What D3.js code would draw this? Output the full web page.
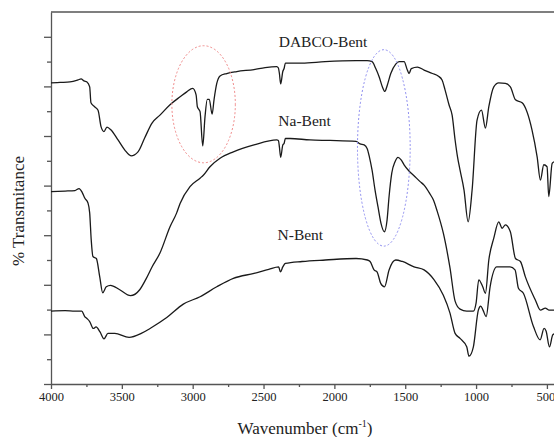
<!DOCTYPE html>
<html>
<head>
<meta charset="utf-8">
<script src="https://cdn.jsdelivr.net/npm/d3@7"></script>
<style>
  body { margin: 0; background: #fff; }
</style>
</head>
<body>
<div id="chart"></div>
<script>
// 光譜資料 [wavenumber, %T]
const dabco = [
  [4000, 60.7], [3936, 60.8], [3866, 60.9], [3809, 61.3], [3788, 61.5], [3767, 61.1], [3746, 60.9],
  [3727, 59.9], [3718, 56.7], [3692, 55.9], [3668, 55.2], [3647, 51.9], [3626, 50.9], [3605, 51.8],
  [3576, 51.2], [3527, 49.2], [3480, 47.2], [3435, 46.0], [3386, 46.8], [3339, 49.6], [3287, 52.6],
  [3231, 54.2], [3160, 56.3], [3089, 57.9], [3042, 58.9], [3000, 59.6], [2976, 58.3], [2967, 55.9],
  [2948, 54.9], [2929, 48.0], [2913, 53.9], [2897, 57.4], [2883, 57.4], [2863, 54.4], [2849, 57.4],
  [2830, 60.6], [2807, 62.1], [2760, 62.6], [2689, 63.0], [2567, 63.4], [2489, 63.8], [2407, 64.0],
  [2395, 63.7], [2388, 62.6], [2379, 60.5], [2364, 63.0], [2355, 63.6], [2346, 64.7], [2228, 64.7],
  [2066, 65.0], [1847, 65.2], [1769, 65.2], [1734, 65.0], [1708, 63.6], [1685, 62.0], [1661, 59.9],
  [1644, 59.0], [1626, 60.3], [1602, 62.6], [1567, 64.5], [1543, 65.0], [1508, 65.0], [1485, 63.3],
  [1473, 62.6], [1457, 63.6], [1414, 63.9], [1367, 63.3], [1308, 62.6], [1268, 62.1], [1240, 61.3],
  [1219, 59.3], [1191, 56.3], [1169, 54.2], [1148, 49.2], [1131, 45.8], [1113, 43.1], [1085, 39.1],
  [1056, 32.7], [1028, 39.1], [993, 53.2], [962, 55.2], [934, 51.6], [910, 55.9], [875, 59.9],
  [840, 60.7], [793, 60.6], [758, 59.9], [722, 57.3], [675, 56.7], [605, 51.2], [569, 45.8],
  [546, 41.1], [522, 44.2], [499, 43.8], [487, 37.8], [463, 44.5], [449, 44.8]
];

const naBent = [
  [4000, 38.8], [3901, 38.9], [3831, 39.0], [3802, 39.4], [3781, 38.7], [3762, 37.5], [3739, 36.5],
  [3727, 34.5], [3716, 29.0], [3704, 25.7], [3680, 25.3], [3656, 21.6], [3635, 18.4], [3610, 19.6],
  [3580, 19.9], [3515, 19.0], [3439, 17.8], [3374, 19.0], [3327, 21.3], [3287, 23.6], [3231, 26.4],
  [3160, 31.7], [3113, 34.5], [3089, 36.4], [3019, 39.8], [2948, 41.5], [2925, 42.1], [2878, 43.8],
  [2807, 45.5], [2713, 46.8], [2567, 48.2], [2407, 49.2], [2395, 49.1], [2388, 47.8], [2379, 45.7],
  [2364, 48.2], [2355, 48.5], [2346, 49.5], [2313, 49.5], [2172, 49.2], [2031, 49.1], [1847, 48.9],
  [1819, 48.4], [1790, 48.2], [1769, 47.5], [1753, 45.8], [1734, 43.1], [1713, 39.1], [1692, 35.7],
  [1671, 32.4], [1647, 30.7], [1628, 33.1], [1614, 37.8], [1595, 42.5], [1572, 44.8], [1551, 45.7],
  [1529, 45.2], [1508, 44.2], [1475, 43.0], [1438, 42.0], [1395, 40.8], [1367, 40.1], [1325, 38.3],
  [1301, 37.1], [1275, 34.9], [1231, 30.4], [1184, 23.4], [1148, 16.7], [1113, 15.1], [1066, 14.7],
  [1019, 14.7], [1000, 16.3], [981, 21.0], [953, 19.6], [934, 18.3], [910, 25.0], [875, 29.4],
  [840, 32.7], [816, 31.4], [793, 32.1], [758, 30.7], [722, 25.3], [687, 24.7], [652, 21.6],
  [581, 16.9], [546, 14.9], [511, 15.3], [487, 14.9], [449, 14.9]
];

const nBent = [
  [4000, 14.7], [3901, 14.8], [3831, 14.7], [3783, 14.7], [3762, 13.6], [3746, 13.2], [3727, 12.6],
  [3701, 11.2], [3682, 11.5], [3654, 10.5], [3626, 9.1], [3598, 10.2], [3550, 10.2], [3449, 9.4],
  [3363, 10.2], [3301, 11.2], [3183, 13.4], [3066, 16.1], [2948, 17.6], [2830, 19.6], [2713, 21.3],
  [2567, 22.3], [2463, 23.1], [2393, 23.6], [2381, 22.6], [2364, 23.6], [2346, 24.3], [2228, 24.7],
  [2064, 25.0], [1847, 25.3], [1767, 25.0], [1748, 24.7], [1720, 23.0], [1699, 22.6], [1673, 20.3],
  [1646, 19.6], [1614, 23.0], [1567, 25.0], [1520, 24.7], [1438, 23.6], [1367, 23.0], [1296, 21.0],
  [1231, 17.9], [1184, 14.3], [1148, 10.2], [1113, 9.2], [1066, 7.5], [1050, 5.6], [1019, 7.5],
  [984, 14.9], [967, 15.7], [951, 14.9], [929, 13.6], [901, 19.6], [854, 23.6], [807, 23.6],
  [760, 23.6], [725, 23.0], [701, 19.3], [666, 18.3], [595, 11.6], [548, 8.9], [520, 11.2],
  [506, 10.7], [482, 7.5], [459, 9.9], [449, 10.1]
];

const seriesNames = ["DABCO-Bent", "Na-Bent", "N-Bent"];
const xMajorTicks = [4000, 3500, 3000, 2500, 2000, 1500, 1000, 500];
const xMinorTicks = [3750, 3250, 2750, 2250, 1750, 1250, 750];
const yMajorTicks = [0, 10, 20, 30, 40, 50, 60, 70];
const yMinorTicks = [5, 15, 25, 35, 45, 55, 65];

// 註解橢圓 [中心 wavenumber, 中心 %T, 半寬 cm-1, 半高 %T]
const redRing = [2923, 56.4, 224, 11.8];
const blueRing = [1651, 47.6, 186, 19.8];

const W = 554, H = 437;
const margin = { top: 12, right: 0, bottom: 53, left: 51 };
const width = W - margin.left - margin.right;
const height = H - margin.top - margin.bottom;
const serif = "'Liberation Serif', 'Times New Roman', serif";

const svg = d3.select("#chart").append("svg")
  .attr("width", W).attr("height", H);

const g = svg.append("g")
  .attr("transform", `translate(${margin.left},${margin.top})`);

const x = d3.scaleLinear().domain([4000, 450]).range([0, width]);
const y = d3.scaleLinear().domain([0, 75]).range([height, 0]);

const axisColor = "#555";

// X 軸
const xAxis = g.append("g")
  .attr("transform", `translate(0,${height})`)
  .call(d3.axisBottom(x).tickValues(xMajorTicks).tickFormat(d3.format("d"))
    .tickSize(5).tickSizeOuter(0).tickPadding(3));
xAxis.attr("font-family", serif);
xAxis.selectAll("text")
  .style("font-family", serif)
  .style("font-size", "12.5px")
  .attr("fill", "#222")
  .attr("dx", d => d === 500 ? -1.5 : 0);   // 最右邊的標籤貼邊
g.append("g")
  .attr("transform", `translate(0,${height})`)
  .call(d3.axisBottom(x).tickValues(xMinorTicks).tickSize(3).tickFormat(""))
  .select(".domain").remove();

// Y 軸
g.append("g")
  .call(d3.axisLeft(y).tickValues(yMajorTicks).tickSize(7).tickSizeOuter(0).tickFormat(""));
g.append("g")
  .call(d3.axisLeft(y).tickValues(yMinorTicks).tickSize(4).tickFormat(""))
  .select(".domain").remove();

g.selectAll(".domain, .tick line")
  .attr("stroke", axisColor).attr("stroke-width", 1.3);

// 上框線
g.append("line")
  .attr("x1", 0).attr("x2", width)
  .attr("y1", 0).attr("y2", 0)
  .attr("stroke", axisColor).attr("stroke-width", 1.3);

// 光譜線
const line = d3.line()
  .x(d => x(d[0]))
  .y(d => y(d[1]))
  .curve(d3.curveMonotoneX);

[dabco, naBent, nBent].forEach(s => {
  g.append("path")
    .datum(s)
    .attr("fill", "none")
    .attr("stroke", "#1a1a1a")
    .attr("stroke-width", 1.3)
    .attr("stroke-linejoin", "round")
    .attr("d", line);
});

// 虛線橢圓
function ring(r, color) {
  g.append("ellipse")
    .attr("cx", x(r[0]))
    .attr("cy", y(r[1]))
    .attr("rx", Math.abs(x(r[0] + r[2]) - x(r[0])))
    .attr("ry", Math.abs(y(r[1] + r[3]) - y(r[1])))
    .attr("fill", "none")
    .attr("stroke", color)
    .attr("stroke-width", 1)
    .attr("stroke-dasharray", "2,2");
}
ring(redRing, "#f08a8a");
ring(blueRing, "#8f8ff0");

// 曲線名稱
const labelPos = [[2080, 68], [2210, 52], [2240, 29]];
seriesNames.forEach((name, i) => {
  g.append("text")
    .attr("x", x(labelPos[i][0]))
    .attr("y", y(labelPos[i][1]))
    .attr("text-anchor", "middle")
    .style("font-family", serif)
    .style("font-size", "15.5px")
    .attr("fill", "#222")
    .text(name);
});

// 軸標題
const xt = svg.append("text")
  .attr("x", 305).attr("y", 434)
  .attr("text-anchor", "middle")
  .style("font-family", serif)
  .style("font-size", "17px")
  .attr("fill", "#222");
xt.append("tspan").text("Wavenumber (cm");
xt.append("tspan").attr("dy", -7).style("font-size", "10px").text("-1");
xt.append("tspan").attr("dy", 7).text(")");

svg.append("text")
  .attr("transform", "translate(24,211) rotate(-90)")
  .attr("text-anchor", "middle")
  .style("font-family", serif)
  .style("font-size", "17px")
  .attr("fill", "#222")
  .text("% Transmitance");
</script>
</body>
</html>
